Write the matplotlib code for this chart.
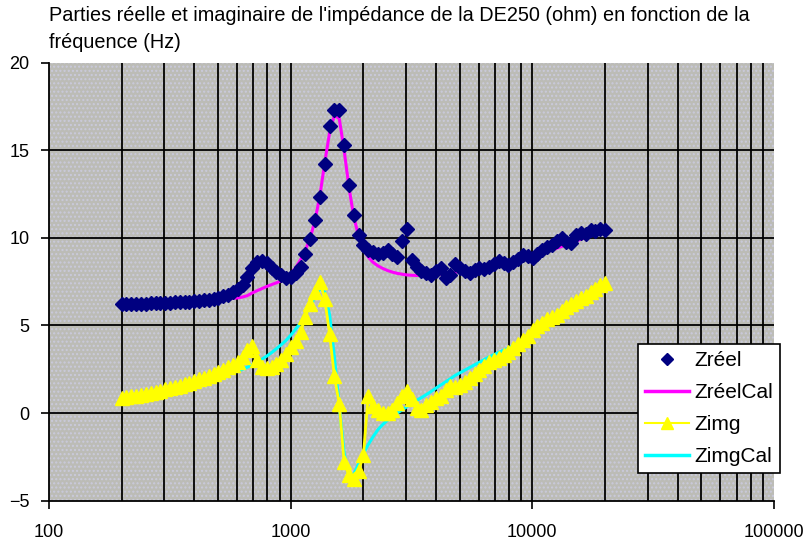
import matplotlib
matplotlib.use("Agg")
import matplotlib.pyplot as plt
from matplotlib.lines import Line2D
from matplotlib.patches import Rectangle

plt.rcParams['font.family'] = ['Liberation Sans', 'DejaVu Sans']
plt.rcParams['hatch.linewidth'] = 1.0

# ---------------- data ----------------
freq = [200, 209, 219, 230, 240, 252, 264, 276, 289, 303,
        317, 332, 348, 364, 381, 399, 418, 438, 458, 480,
        502, 526, 551, 577, 604, 632, 662, 693, 726, 760,
        796, 834, 873, 914, 957, 1002, 1050, 1099, 1151, 1205,
        1262, 1321, 1384, 1449, 1517, 1589, 1664, 1742, 1824, 1910,
        2000, 2094, 2193, 2296, 2405, 2518, 2637, 2761, 2891, 3027,
        3170, 3319, 3476, 3639, 3811, 3991, 4179, 4376, 4582, 4798,
        5024, 5261, 5508, 5768, 6040, 6325, 6623, 6935, 7262, 7604,
        7962, 8337, 8730, 9142, 9573, 10024, 10496, 10991, 11509, 12051,
        12619, 13213, 13836, 14489, 15172, 15887, 16635, 17419, 18240, 19100,
        20000]

z_reel = [6.22, 6.22, 6.23, 6.24, 6.24, 6.25, 6.26, 6.27, 6.28, 6.29,
          6.30, 6.31, 6.33, 6.34, 6.36, 6.38, 6.41, 6.44, 6.47, 6.52,
          6.58, 6.66, 6.76, 6.88, 7.05, 7.30, 7.75, 8.25, 8.60, 8.70,
          8.55, 8.30, 8.05, 7.85, 7.70, 7.75, 8.00, 8.35, 9.10, 9.95,
          11.0, 12.3, 14.2, 16.4, 17.3, 17.3, 15.3, 13.0, 11.3, 10.15,
          9.60, 9.30, 9.20, 9.10, 9.15, 9.30, 9.10, 8.90, 9.80, 10.5,
          8.75, 8.35, 8.10, 8.00, 7.90, 8.10, 8.25, 7.70, 7.90, 8.50,
          8.30, 8.10, 8.00, 8.15, 8.30, 8.20, 8.35, 8.50, 8.65, 8.55,
          8.45, 8.60, 8.80, 9.00, 8.95, 8.85, 9.10, 9.30, 9.45, 9.60,
          9.80, 10.0, 9.75, 9.70, 10.15, 10.3, 10.2, 10.45, 10.4, 10.5,
          10.45]

z_reel_cal = [6.20, 6.20, 6.21, 6.21, 6.22, 6.22, 6.23, 6.24, 6.25, 6.26,
              6.27, 6.28, 6.29, 6.30, 6.31, 6.33, 6.35, 6.37, 6.40, 6.42,
              6.45, 6.48, 6.51, 6.54, 6.57, 6.62, 6.70, 6.85, 6.98, 7.10,
              7.22, 7.33, 7.43, 7.55, 7.70, 7.95, 8.30, 8.75, 9.30, 10.0,
              11.0, 12.4, 14.3, 16.0, 17.0, 16.8, 15.0, 12.9, 11.2, 10.1,
              9.40, 8.90, 8.60, 8.40, 8.25, 8.13, 8.04, 7.97, 7.92, 7.88,
              7.86, 7.85, 7.85, 7.86, 7.88, 7.90, 7.93, 7.97, 8.00, 8.04,
              8.08, 8.12, 8.16, 8.20, 8.25, 8.30, 8.35, 8.40, 8.46, 8.52,
              8.58, 8.65, 8.72, 8.79, 8.87, 8.95, 9.03, 9.12, 9.21, 9.30,
              9.40, 9.50, 9.60, 9.70, 9.81, 9.92, 10.03, 10.15, 10.27, 10.39,
              10.5]

z_img = [0.85, 0.90, 0.95, 1.00, 1.05, 1.10, 1.16, 1.22, 1.28, 1.35,
         1.42, 1.50, 1.57, 1.65, 1.73, 1.82, 1.92, 2.02, 2.12, 2.23,
         2.35, 2.47, 2.60, 2.75, 2.93, 3.20, 3.60, 3.80, 3.00, 2.60,
         2.55, 2.65, 2.80, 3.00, 3.35, 3.75, 4.10, 4.60, 5.50, 6.20,
         6.90, 7.50, 6.50, 4.50, 2.10, 0.50, -2.80, -3.55, -3.75, -3.30,
         -2.40, 1.00, 0.40, 0.15, 0.00, 0.00, 0.20, 0.60, 1.00, 1.25,
         0.80, 0.30, 0.20, 0.45, 0.65, 0.85, 1.00, 1.30, 1.55, 1.50,
         1.60, 1.80, 2.00, 2.25, 2.45, 2.70, 2.90, 3.05, 3.15, 3.30,
         3.50, 3.70, 3.95, 4.15, 4.40, 4.75, 4.95, 5.15, 5.35, 5.50,
         5.60, 5.80, 6.05, 6.25, 6.40, 6.55, 6.70, 6.90, 7.10, 7.30,
         7.40]

z_img_cal = [0.82, 0.86, 0.90, 0.94, 0.98, 1.03, 1.08, 1.13, 1.19, 1.25,
             1.31, 1.37, 1.44, 1.51, 1.58, 1.66, 1.74, 1.82, 1.91, 2.00,
             2.08, 2.15, 2.22, 2.30, 2.40, 2.50, 2.62, 2.75, 2.90, 3.07,
             3.25, 3.45, 3.67, 3.90, 4.15, 4.45, 4.80, 5.15, 5.60, 6.10,
             6.65, 7.10, 6.90, 5.60, 3.20, 0.40, -2.30, -3.50, -3.50, -2.90,
             -2.30, -1.80, -1.35, -0.95, -0.65, -0.40, -0.20, 0.00, 0.18, 0.36,
             0.55, 0.72, 0.88, 1.05, 1.23, 1.42, 1.60, 1.78, 1.96, 2.15,
             2.30, 2.45, 2.60, 2.75, 2.90, 3.05, 3.20, 3.33, 3.46, 3.58,
             3.70, 3.86, 4.02, 4.18, 4.34, 4.50, 4.68, 4.86, 5.04, 5.22,
             5.40, 5.58, 5.76, 5.94, 6.12, 6.30, 6.50, 6.70, 6.90, 7.10,
             7.30]

series_labels = ["Zréel", "ZréelCal", "Zimg", "ZimgCal"]
x_ticks = [100, 1000, 10000, 100000]
x_tick_labels = ["100", "1000", "10000", "100000"]
y_ticks = [-5, 0, 5, 10, 15, 20]
title = ("Parties réelle et imaginaire de l'impédance de la DE250 (ohm) en fonction de la\n"
         "fréquence (Hz)")

# ---------------- figure ----------------
W, H = 811, 543
fig = plt.figure(figsize=(W / 100, H / 100), dpi=100)
fig.patch.set_facecolor('white')
L, R, T, B = 49, 774, 62.5, 500.7
ax = fig.add_axes([L / W, 1 - B / H, (R - L) / W, (B - T) / H])
ax.set_facecolor('#bcbcb6')
# textured look of the plot area
ax.add_patch(Rectangle((0, 0), 1, 1, transform=ax.transAxes, facecolor='none',
                       edgecolor='#cacadc', hatch='....', lw=0, zorder=0.5))

ax.set_xscale('log')
ax.set_xlim(100, 100000)
ax.set_ylim(-5, 20)

# grid lines (edges at 20 and 100000 are not drawn in black)
for dec in [100, 1000, 10000]:
    for m in range(1, 10):
        v = dec * m
        if 100 < v < 100000:
            ax.axvline(v, color='black', lw=1.3, zorder=1)
for yv in [0, 5, 10, 15]:
    ax.axhline(yv, color='black', lw=1.3, zorder=1)

for s in ['top', 'right']:
    ax.spines[s].set_visible(False)
for s in ['left', 'bottom']:
    ax.spines[s].set_color('black')
    ax.spines[s].set_linewidth(1.3)

ax.set_xticks(x_ticks)
ax.set_xticklabels(x_tick_labels)
ax.xaxis.set_minor_locator(matplotlib.ticker.NullLocator())
ax.set_yticks(y_ticks)
ax.tick_params(axis='x', direction='out', length=6, width=1.2, pad=11, labelsize=13)
ax.tick_params(axis='y', direction='out', length=6, width=1.2, pad=8, labelsize=13)

# series
ax.plot(freq, z_reel_cal, color='#ff00ff', lw=2.2, zorder=3)
ax.plot(freq, z_img_cal, color='#00ffff', lw=2.2, zorder=3)
ax.plot(freq, z_img, color='#ffff00', lw=2.0, zorder=4)
ax.plot(freq, z_img, ls='none', marker='^', ms=10.5, color='#ffff00',
        markeredgecolor='#ffff00', zorder=5)
ax.plot(freq, z_reel, ls='none', marker='D', ms=7.5, color='#000080',
        markeredgecolor='#000080', zorder=6)

fig.text(L / W, 1 - 6 / H, title, ha='left', va='top', fontsize=14.3, linespacing=1.55)

handles = [
    Line2D([], [], ls='none', marker='D', ms=6.5, color='#000080'),
    Line2D([], [], color='#ff00ff', lw=2.5),
    Line2D([], [], color='#ffff00', lw=1.5, marker='^', ms=9),
    Line2D([], [], color='#00ffff', lw=2.5),
]
leg = fig.legend(handles, series_labels, loc='upper left',
                 bbox_to_anchor=(638 / W, 1 - 344 / H), fontsize=15,
                 frameon=True, fancybox=False, framealpha=1,
                 edgecolor='black', borderpad=0.35, labelspacing=0.62,
                 handlelength=2.1, handletextpad=0.25, borderaxespad=0)
leg.get_frame().set_linewidth(1.2)

fig.savefig('out.png', dpi=100)
